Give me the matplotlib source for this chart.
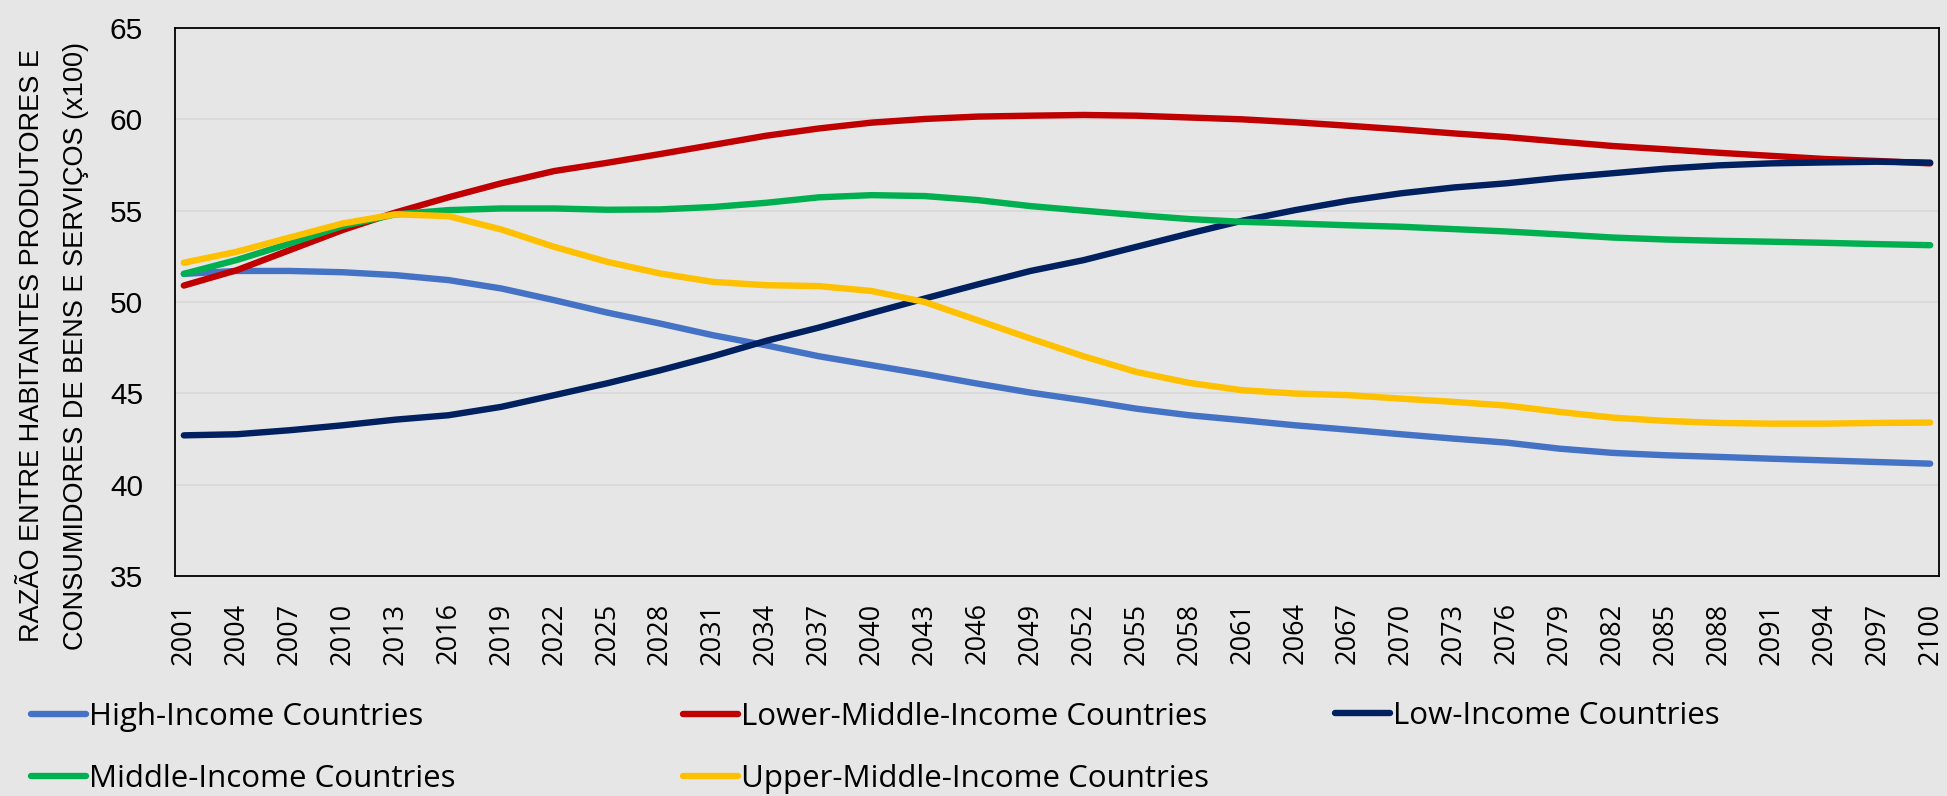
import matplotlib
matplotlib.use("Agg")
import matplotlib.pyplot as plt

years = list(range(2001, 2101, 3))
y_ticks = [35, 40, 45, 50, 55, 60, 65]

high_income = [51.54, 51.70, 51.70, 51.63, 51.47, 51.20, 50.74, 50.10, 49.42, 48.82,
               48.18, 47.63, 47.03, 46.54, 46.05, 45.53, 45.04, 44.62, 44.16, 43.80,
               43.53, 43.25, 43.01, 42.76, 42.52, 42.30, 41.97, 41.74, 41.61, 41.52,
               41.42, 41.33, 41.24, 41.15]
lower_middle = [50.90, 51.74, 52.84, 53.94, 54.90, 55.73, 56.50, 57.17, 57.62, 58.10,
                58.60, 59.10, 59.50, 59.82, 60.02, 60.15, 60.20, 60.24, 60.20, 60.10,
                60.00, 59.84, 59.65, 59.45, 59.23, 59.03, 58.78, 58.54, 58.36, 58.17,
                58.00, 57.83, 57.72, 57.59]
low_income = [42.70, 42.76, 42.98, 43.25, 43.56, 43.80, 44.26, 44.90, 45.55, 46.26,
              47.03, 47.87, 48.60, 49.40, 50.19, 50.96, 51.70, 52.29, 53.02, 53.75,
              54.45, 55.03, 55.54, 55.95, 56.27, 56.50, 56.80, 57.05, 57.30, 57.48,
              57.59, 57.64, 57.68, 57.63]
middle_income = [51.54, 52.30, 53.20, 54.16, 54.80, 55.03, 55.12, 55.12, 55.05, 55.07,
                 55.20, 55.43, 55.73, 55.85, 55.80, 55.58, 55.25, 55.00, 54.76, 54.54,
                 54.39, 54.30, 54.20, 54.12, 53.99, 53.86, 53.70, 53.53, 53.42, 53.35,
                 53.30, 53.24, 53.17, 53.11]
upper_middle = [52.15, 52.75, 53.53, 54.30, 54.80, 54.70, 53.97, 53.02, 52.20, 51.56,
                51.10, 50.92, 50.87, 50.60, 50.00, 49.00, 48.00, 47.03, 46.17, 45.57,
                45.17, 44.99, 44.90, 44.71, 44.53, 44.33, 43.98, 43.67, 43.49, 43.38,
                43.34, 43.34, 43.38, 43.40]

series = [
    ("High-Income Countries", high_income, "#4472c4"),
    ("Lower-Middle-Income Countries", lower_middle, "#c00000"),
    ("Low-Income Countries", low_income, "#002060"),
    ("Middle-Income Countries", middle_income, "#00b050"),
    ("Upper-Middle-Income Countries", upper_middle, "#ffc000"),
]

bg = "#e7e6e6"
W, H = 1947, 796
fig = plt.figure(figsize=(W / 100, H / 100), dpi=100, facecolor=bg)
ax = fig.add_axes([175 / W, 1 - 576 / H, (1939 - 175) / W, (576 - 28) / H])
ax.set_facecolor(bg)

handles = []
for name, vals, col in series:
    ln, = ax.plot(years, vals, color=col, lw=4.6, solid_capstyle="round",
                  solid_joinstyle="round", label=name)
    handles.append(ln)

ax.set_xlim(2000.5, 2100.5)
ax.set_ylim(35, 65)
ax.set_yticks(y_ticks, labels=[str(v) for v in y_ticks],
              fontfamily="Liberation Sans", fontsize=21.5)
ax.set_xticks(years, labels=[str(y) for y in years], rotation=90,
              fontfamily="Open Sans", fontsize=19.5)
ax.tick_params(axis="both", length=0)
ax.tick_params(axis="y", pad=23)
ax.tick_params(axis="x", pad=19)
ax.grid(axis="y", color="#d9d9d9", lw=1.3)
ax.set_axisbelow(True)
for sp in ax.spines.values():
    sp.set_color("black")
    sp.set_linewidth(1.3)

fig.text(32 / W, 1 - 346 / H, "RAZÃO ENTRE HABITANTES PRODUTORES E", rotation=90,
         ha="center", va="center", fontsize=19.5, fontfamily="Liberation Sans")
fig.text(76 / W, 1 - 346 / H, "CONSUMIDORES DE BENS E SERVIÇOS (x100)", rotation=90,
         ha="center", va="center", fontsize=19.5, fontfamily="Liberation Sans")

# legend laid out in three fixed columns like the original
cols = [([0, 3], 31, 748), ([1, 4], 683, 748), ([2], 1335, 716)]
for idx, x0, yc in cols:
    fig.legend(handles=[handles[i] for i in idx], loc="center left",
               bbox_to_anchor=(x0 / W, 1 - yc / H), frameon=False,
               borderpad=0, borderaxespad=0, handlelength=1.75,
               handletextpad=0.1, labelspacing=1.05,
               prop={"family": "Open Sans", "size": 22.5})

fig.savefig("out.png", dpi=100, facecolor=bg)
